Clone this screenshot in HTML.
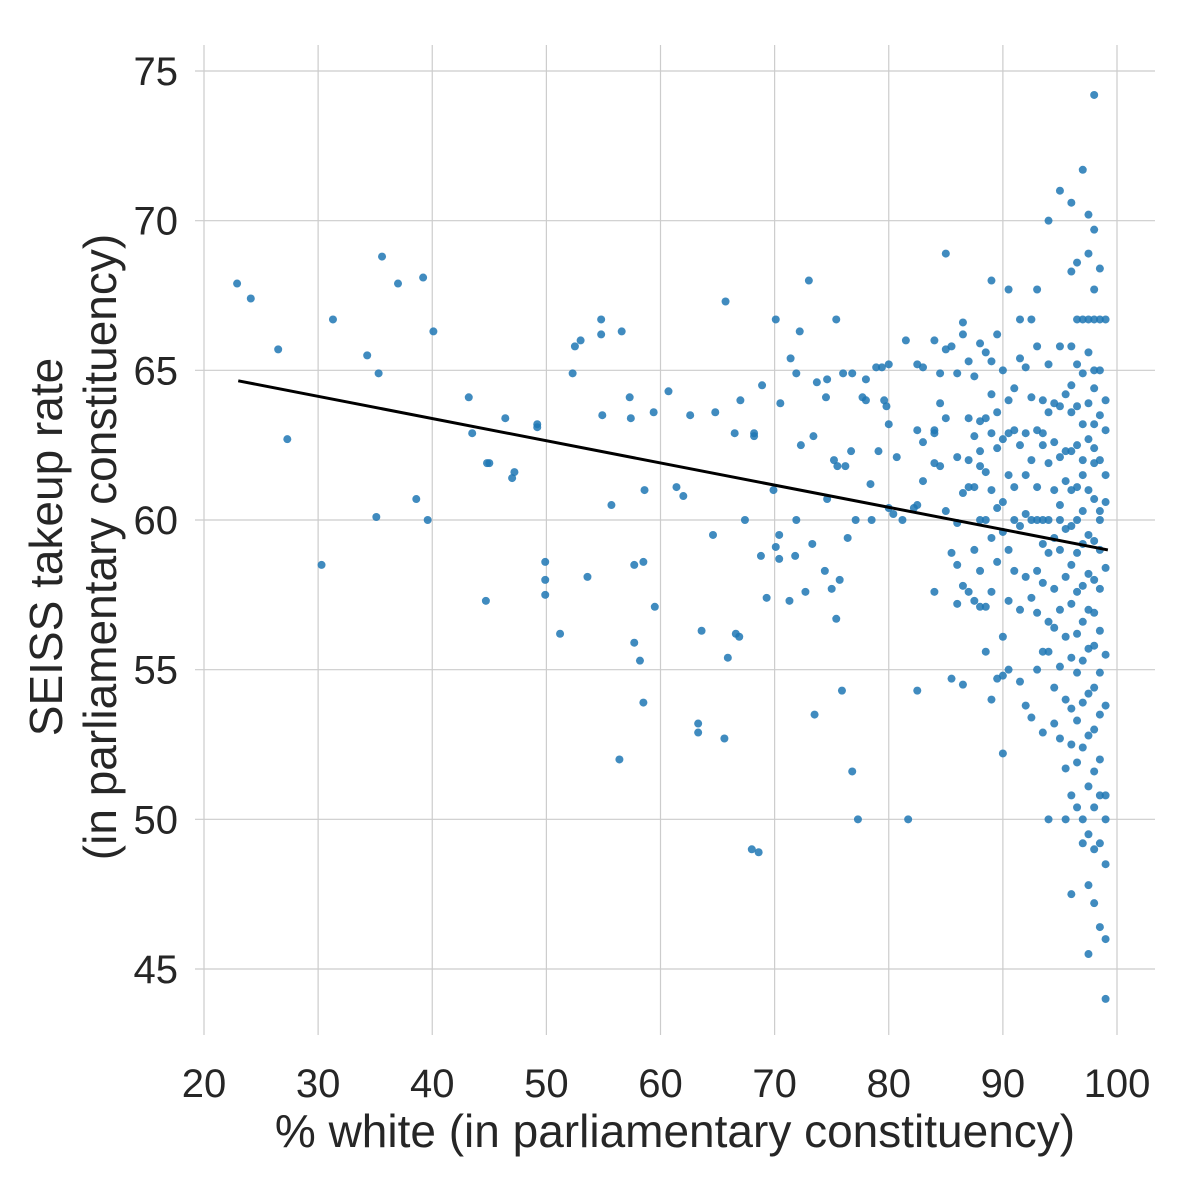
<!DOCTYPE html>
<html><head><meta charset="utf-8"><style>
html,body{margin:0;padding:0;background:#fff;}
svg{display:block;font-family:"Liberation Sans",Arial,sans-serif;}
</style></head><body>
<svg id="chart" width="1200" height="1200" viewBox="0 0 1200 1200">
<g id="grid"></g>
<g id="ticks"></g>
<g id="pts"></g>
<g id="fit"></g>
<text x="675" y="1147" font-size="46" fill="#262626" text-anchor="middle">% white (in parliamentary constituency)</text>
<g transform="translate(0,547) rotate(-90)">
<text x="0" y="62" font-size="46" fill="#262626" text-anchor="middle">SEISS takeup rate</text>
<text x="0" y="116" font-size="46" fill="#262626" text-anchor="middle">(in parliamentary constituency)</text>
</g>
</svg>
<script>
const xTicks=[20,30,40,50,60,70,80,90,100];
const yTicks=[45,50,55,60,65,70,75];
const fitX=[23,99.2];
const fitY=[64.65,59.0];
const leftX=[22.9,24.1,26.5,27.3,30.3,31.3,34.3,35.1,35.3,35.6,37.0,38.6,39.2,39.6,40.1,43.2,43.5,44.7,44.8,45.0,46.4,47.0,47.2,49.2,49.2,49.9,49.9,49.9,51.2,52.3,52.5,53.0,53.6,54.8,54.8,54.9,55.7,56.4,56.6,57.3,57.4,57.7,57.7,58.2,58.5,58.5,58.6,59.4,59.5,60.7,61.4,62.0,62.6,63.3,63.3,63.6,65.7,64.6,64.8,65.6,65.9,66.5,66.6,66.9,67.0,67.4,68.0,68.2,68.2,68.6,68.8,68.9,69.3,69.9,70.1,70.1,70.4,70.4,70.5,71.3,71.4,71.8,71.9,71.9,72.2,72.3,72.7,73.0,73.3,73.4,73.5,73.7,74.4,74.5,74.6,74.6,75.0,75.2,75.4,75.5,75.7,75.4,75.9,76.0,76.2,76.4,76.7,76.8,76.8,77.1,77.3,77.7,78.0,78.0,78.4,78.5,79.1,78.9,79.4,79.6,79.8,80.0,80.0,80.0,80.4,80.7,81.2,81.5,81.7,82.2];
const leftY=[67.9,67.4,65.7,62.7,58.5,66.7,65.5,60.1,64.9,68.8,67.9,60.7,68.1,60.0,66.3,64.1,62.9,57.3,61.9,61.9,63.4,61.4,61.6,63.2,63.1,58.6,58.0,57.5,56.2,64.9,65.8,66.0,58.1,66.7,66.2,63.5,60.5,52.0,66.3,64.1,63.4,58.5,55.9,55.3,53.9,58.6,61.0,63.6,57.1,64.3,61.1,60.8,63.5,53.2,52.9,56.3,67.3,59.5,63.6,52.7,55.4,62.9,56.2,56.1,64.0,60.0,49.0,62.8,62.9,48.9,58.8,64.5,57.4,61.0,66.7,59.1,59.5,58.7,63.9,57.3,65.4,58.8,60.0,64.9,66.3,62.5,57.6,68.0,59.2,62.8,53.5,64.6,58.3,64.1,64.7,60.7,57.7,62.0,66.7,61.8,58.0,56.7,54.3,64.9,61.8,59.4,62.3,64.9,51.6,60.0,50.0,64.1,64.0,64.7,61.2,60.0,62.3,65.1,65.1,64.0,63.8,65.2,63.2,60.4,60.2,62.1,60.0,66.0,50.0,60.4];
const colX=[82.5,83,84,84.5,85,85.5,86,86.5,87,87.5,88,88.5,89,89.5,90,90.5,91,91.5,92,92.5,93,93.5,94,94.5,95,95.5,96,96.5,97,97.5,98,98.5,99];
const colY=[
[65.2,54.3,63.0,60.5],[65.1,62.6,61.3],[62.9,61.9,57.6,66.0,63.0],[63.9,64.9,61.8],[68.9,65.7,60.3,63.4],[54.7,65.8,58.9],
[64.9,62.1,59.9,58.5,57.2],[66.6,66.2,60.9,57.8,54.5],[62.0,61.1,57.6,63.4,65.3],[64.8,62.8,59.0,61.1,57.3],
[63.3,60.0,58.3,65.9,61.8,57.1,62.3],[65.6,63.4,60.0,55.6,57.1,61.6],[68.0,64.2,62.9,61.0,59.4,65.3,57.6,54.0],
[66.2,63.6,60.4,58.6,54.7,62.4],[65.0,62.7,60.6,59.6,56.1,52.2,54.8],[67.7,64.0,61.5,59.0,57.3,55.0,62.9],
[63.0,60.0,58.3,61.1,64.4],[66.7,65.4,62.5,59.8,57.0,54.6],[65.1,62.9,60.2,58.1,53.8,61.5],[64.1,62.0,60.0,57.4,53.4,66.7],
[67.7,65.8,63.0,61.1,60.0,58.3,56.9,55.0],[64.0,62.5,60.0,59.2,57.9,55.6,52.9,62.9],[70.0,65.2,61.9,60.0,58.9,56.6,55.6,50.0,63.6],
[63.9,62.6,61.0,59.4,57.7,56.4,54.4,53.2],[71.0,65.8,63.8,62.1,60.5,59.0,57.0,55.1,52.7,60.0],[64.2,62.3,61.3,59.7,58.1,56.1,54.0,51.7,50.0],
[70.6,68.3,65.8,63.6,62.3,61.0,59.8,58.5,57.2,55.4,53.7,52.5,50.8,47.5,64.5],
[66.7,65.2,63.8,62.5,61.1,60.0,58.9,57.6,56.2,54.9,53.3,51.9,50.4,68.6],
[71.7,66.7,64.9,63.2,62.0,60.3,59.2,57.8,56.6,55.3,53.9,52.4,50.0,49.2,61.5],
[70.2,68.9,66.7,65.6,63.9,62.7,61.0,59.5,58.2,57.0,55.7,54.2,52.8,51.1,49.5,47.8,45.5],
[74.2,69.7,67.7,66.7,65.0,63.2,61.9,60.7,59.3,58.0,56.9,55.8,54.4,53.0,51.6,50.4,49.0,47.2,62.4,64.4],
[68.4,66.7,65.0,63.5,62.0,60.3,59.0,57.7,56.3,54.9,53.5,52.0,50.8,49.2,46.4,60.0],
[66.7,64.0,61.5,60.6,58.4,55.5,53.8,50.0,48.5,46.0,44.0,50.8,63.0]];

const NS="http://www.w3.org/2000/svg";
const X=v=>204+(v-20)*(1117-204)/80;
const Y=v=>969-(v-45)*(969-71)/30;
function mk(tag,attrs,parent){const e=document.createElementNS(NS,tag);for(const k in attrs)e.setAttribute(k,attrs[k]);parent.appendChild(e);return e;}
const grid=document.getElementById('grid'),ticks=document.getElementById('ticks'),pts=document.getElementById('pts'),fit=document.getElementById('fit');
xTicks.forEach(t=>{
  const l=mk('line',{x1:X(t),x2:X(t),y1:45,y2:1035,stroke:'#cccccc','stroke-width':1.2},grid);
  
  
  const tx=mk('text',{x:X(t),y:1097,'font-size':40,fill:'#262626','text-anchor':'middle'},ticks);
  
  
  tx.textContent=t;
});
yTicks.forEach(t=>{
  const l=mk('line',{x1:195,x2:1155,y1:Y(t),y2:Y(t),stroke:'#cccccc','stroke-width':1.2},grid);
  
  
  const tx=mk('text',{x:178,y:Y(t)+14,'font-size':40,fill:'#262626','text-anchor':'end'},ticks);
  
  
  tx.textContent=t;
});
function dot(x,y){
  const c=mk('circle',{cx:X(x),cy:Y(y),r:4,fill:'#1f77b4','fill-opacity':0.85},pts);
  
  
}
leftX.forEach((x,i)=>dot(x,leftY[i]));
colX.forEach((x,i)=>colY[i].forEach(y=>dot(x,y)));
const ln=mk('line',{x1:X(fitX[0]),y1:Y(fitY[0]),x2:X(fitX[1]),y2:Y(fitY[1]),stroke:'#000','stroke-width':3},fit);


</script>
</body></html>
